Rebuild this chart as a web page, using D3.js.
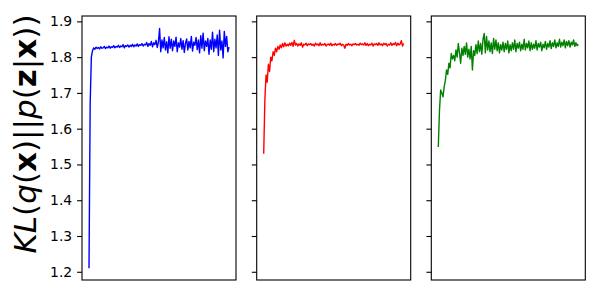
<!DOCTYPE html>
<html>
<head>
<meta charset="utf-8">
<script src="https://cdn.jsdelivr.net/npm/d3@7"></script>
<style>
body { margin: 0; background: #fff; }
text { font-family: "DejaVu Sans", sans-serif; }
</style>
</head>
<body>
<div id="chart"></div>
<script>
// tick labels on the shared y axis
const yTicks = [1.2, 1.3, 1.4, 1.5, 1.6, 1.7, 1.8, 1.9];

// series, one value per step
const blueSeries = [
  1.21, 1.67, 1.80, 1.818, 1.826, 1.822, 1.828, 1.824, 1.827, 1.823,
  1.829, 1.825, 1.826, 1.830, 1.824, 1.828, 1.826, 1.831, 1.825, 1.829,
  1.827, 1.832, 1.826, 1.830, 1.828, 1.833, 1.827, 1.831, 1.829, 1.835,
  1.826, 1.832, 1.830, 1.834, 1.828, 1.833, 1.830, 1.836, 1.829, 1.834,
  1.831, 1.837, 1.830, 1.835, 1.833, 1.838, 1.831, 1.836, 1.834, 1.841,
  1.830, 1.838, 1.833, 1.844, 1.829, 1.840, 1.835, 1.847, 1.827, 1.842,
  1.880, 1.815, 1.848, 1.826, 1.855, 1.820, 1.843, 1.812, 1.857, 1.825,
  1.850, 1.818, 1.845, 1.830, 1.856, 1.815, 1.840, 1.828, 1.852, 1.822,
  1.846, 1.813, 1.838, 1.851, 1.820, 1.844, 1.826, 1.858, 1.817, 1.842,
  1.833, 1.855, 1.821, 1.848, 1.812, 1.860, 1.825, 1.867, 1.818, 1.845,
  1.830, 1.852, 1.808, 1.848, 1.822, 1.870, 1.815, 1.850, 1.826, 1.862,
  1.805, 1.875, 1.820, 1.845, 1.798, 1.872, 1.830, 1.858, 1.815, 1.828
];

const redSeries = [
  1.53, 1.68, 1.75, 1.73, 1.78, 1.76, 1.80, 1.79, 1.815, 1.805,
  1.825, 1.815, 1.83, 1.822, 1.834, 1.826, 1.838, 1.829, 1.840, 1.831,
  1.836, 1.832, 1.839, 1.833, 1.841, 1.830, 1.847, 1.834, 1.838, 1.831,
  1.837, 1.833, 1.840, 1.828, 1.836, 1.834, 1.839, 1.832, 1.837, 1.835,
  1.838, 1.833, 1.836, 1.831, 1.839, 1.834, 1.837, 1.832, 1.840, 1.833,
  1.836, 1.834, 1.838, 1.831, 1.835, 1.837, 1.833, 1.839, 1.832, 1.836,
  1.834, 1.838, 1.833, 1.837, 1.835, 1.839, 1.832, 1.836, 1.834, 1.825,
  1.836, 1.833, 1.838, 1.834, 1.836, 1.832, 1.837, 1.835, 1.838, 1.834,
  1.836, 1.833, 1.839, 1.835, 1.837, 1.834, 1.840, 1.833, 1.838, 1.832,
  1.836, 1.834, 1.839, 1.831, 1.837, 1.835, 1.838, 1.833, 1.840, 1.834,
  1.837, 1.832, 1.839, 1.835, 1.838, 1.831, 1.836, 1.834, 1.840, 1.833,
  1.838, 1.835, 1.841, 1.832, 1.839, 1.834, 1.837, 1.846, 1.831, 1.838
];

const greenSeries = [
  1.549, 1.65, 1.708, 1.70, 1.689, 1.717, 1.735, 1.764, 1.752, 1.783,
  1.770, 1.810, 1.795, 1.805, 1.790, 1.820, 1.800, 1.838, 1.812, 1.783,
  1.825, 1.805, 1.830, 1.808, 1.840, 1.800, 1.822, 1.795, 1.830, 1.764,
  1.818, 1.805, 1.835, 1.810, 1.845, 1.815, 1.838, 1.808, 1.850, 1.866,
  1.812, 1.858, 1.820, 1.845, 1.815, 1.840, 1.810, 1.852, 1.822, 1.848,
  1.818, 1.840, 1.812, 1.835, 1.820, 1.842, 1.815, 1.838, 1.822, 1.845,
  1.812, 1.835, 1.818, 1.840, 1.822, 1.848, 1.815, 1.838, 1.825, 1.842,
  1.818, 1.836, 1.822, 1.850, 1.820, 1.838, 1.826, 1.845, 1.818, 1.840,
  1.822, 1.836, 1.825, 1.846, 1.820, 1.838, 1.828, 1.842, 1.818, 1.836,
  1.826, 1.844, 1.822, 1.838, 1.828, 1.846, 1.824, 1.840, 1.830, 1.848,
  1.826, 1.840, 1.830, 1.850, 1.828, 1.842, 1.832, 1.848, 1.826, 1.844,
  1.832, 1.846, 1.828, 1.842, 1.834, 1.848, 1.830, 1.840, 1.832, 1.836
];

const seriesList = [blueSeries, redSeries, greenSeries];
const seriesColors = ["#0000ff", "#ff0000", "#008000"];

// layout
const svgWidth = 600;
const svgHeight = 300;
const panelLefts = [82, 256.7, 431.3];
const panelWidth = 154;
const plotTop = 16;
const plotBottom = 280;

const svg = d3.select("#chart")
  .append("svg")
  .attr("width", svgWidth)
  .attr("height", svgHeight);

const yLinearScale = d3.scaleLinear()
  .domain([1.177, 1.915])
  .range([plotBottom, plotTop]);

const n = blueSeries.length;
const pad = (n - 1) * 0.05;
const xLinearScale = d3.scaleLinear()
  .domain([-pad, n - 1 + pad])
  .range([0, panelWidth]);

seriesList.forEach((series, k) => {
  const g = svg.append("g")
    .attr("transform", `translate(${panelLefts[k]},0)`);

  const line = d3.line()
    .x((d, i) => xLinearScale(i))
    .y(d => yLinearScale(d));

  g.append("path")
    .datum(series)
    .attr("fill", "none")
    .attr("stroke", seriesColors[k])
    .attr("stroke-width", 1.4)
    .attr("stroke-linejoin", "round")
    .attr("d", line);

  const leftAxis = d3.axisLeft(yLinearScale)
    .tickValues(yTicks)
    .tickSize(4.9)
    .tickPadding(4.9)
    .tickFormat(k === 0 ? d3.format(".1f") : () => "");

  const yAxis = g.append("g").call(leftAxis);
  yAxis.select(".domain").remove();
  yAxis.selectAll(".tick line").attr("stroke", "#000").attr("stroke-width", 1.1);
  yAxis.selectAll(".tick text")
    .attr("fill", "#000")
    .attr("font-size", "13.9px")
    .attr("font-family", "DejaVu Sans");

  // frame
  g.append("rect")
    .attr("x", 0)
    .attr("y", plotTop)
    .attr("width", panelWidth)
    .attr("height", plotBottom - plotTop)
    .attr("fill", "none")
    .attr("stroke", "#000")
    .attr("stroke-width", 1.1);
});

// y label: KL(q(x)||p(z|x)) in math style
const yLabel = svg.append("text")
  .attr("transform", `translate(36,134)rotate(-90)`)
  .attr("text-anchor", "middle")
  .attr("font-size", "31px")
  .attr("fill", "#000");

const labelParts = [
  ["KL", "italic", "normal"],
  ["(", "normal", "normal"],
  ["q", "italic", "normal"],
  ["(", "normal", "normal"],
  ["x", "normal", "bold"],
  [")||", "normal", "normal"],
  ["p", "italic", "normal"],
  ["(", "normal", "normal"],
  ["z", "normal", "bold"],
  ["|", "normal", "normal"],
  ["x", "normal", "bold"],
  ["))", "normal", "normal"]
];
labelParts.forEach(p => {
  yLabel.append("tspan")
    .attr("font-style", p[1])
    .attr("font-weight", p[2])
    .text(p[0]);
});
</script>
</body>
</html>
